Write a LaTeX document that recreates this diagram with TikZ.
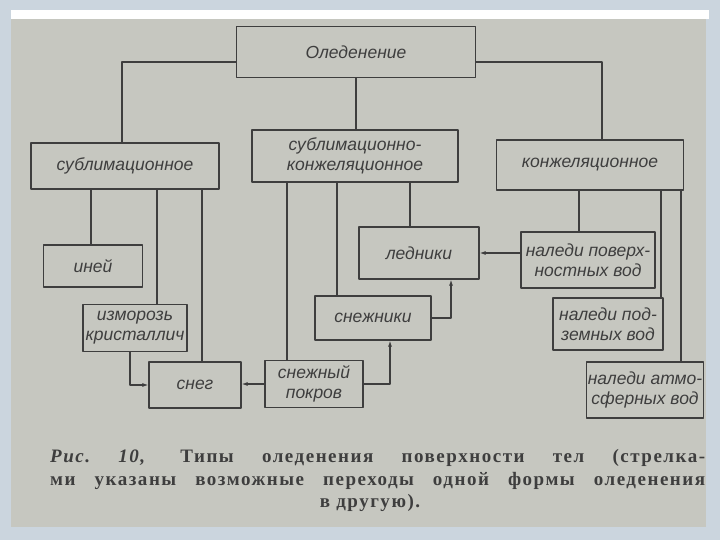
\documentclass[tikz,border=0pt]{standalone}
\usepackage{fontspec}
\setmainfont{Liberation Serif}
\newfontfamily\hand{Liberation Sans}
\newfontfamily\capfont{Liberation Serif}[LetterSpace=8]
\usetikzlibrary{arrows.meta}
\definecolor{giay}{RGB}{198,199,192}
\definecolor{nen}{RGB}{203,213,222}
\definecolor{muc}{RGB}{62,62,62}
\tikzset{
  khoi/.style={draw=muc, line width=1.2pt, fill=giay, text=muc, align=center,
    inner sep=1pt, font=\hand\itshape\fontsize{17.5}{20}\selectfont},
  noi/.style={draw=muc, line width=1.2pt},
  mui/.style={noi, -{Latex[length=6pt,width=4pt]}},
  dong/.style={inner sep=0pt, anchor=west, text=muc,
    font=\capfont\bfseries\fontsize{19}{23}\selectfont}
}
\begin{document}
\begin{tikzpicture}[x=1pt, y=-1pt, line join=round, line cap=round]
	% Nền và trang sách
	\fill[nen] (0,0) rectangle (720,540);
	\fill[white] (11,10) rectangle (709,19);
	\fill[giay] (11,19) rectangle (706,527);
	\useasboundingbox (0,0) rectangle (720,540);
	
	% Vẽ các khối
	\node[khoi, minimum width=239pt, minimum height=51pt] (ol) at (356,52) {Оледенение};
	\node[khoi, minimum width=188pt, minimum height=46pt] (sub) at (125,166) {сублимационное};
	\node[khoi, minimum width=206pt, minimum height=52pt] (subk) at (355,156) {сублимационно-\\конжеляционное};
	\node[khoi, minimum width=187pt, minimum height=50pt] (konzh) at (590,165) {конжеляционное};
	\node[khoi, minimum width=99pt, minimum height=42pt] (inei) at (93,266) {иней};
	\node[khoi, minimum width=104pt, minimum height=47pt] (izm) at (135,328) {изморозь\\кристаллич};
	\node[khoi, minimum width=92pt, minimum height=46pt] (sneg) at (195,385) {снег};
	\node[khoi, minimum width=98pt, minimum height=47pt] (pokr) at (314,384) {снежный\\покров};
	\node[khoi, minimum width=116pt, minimum height=44pt] (snezh) at (373,318) {снежники};
	\node[khoi, minimum width=120pt, minimum height=52pt] (led) at (419,253) {ледники};
	\node[khoi, minimum width=134pt, minimum height=56pt] (npov) at (588,260) {наледи поверх-\\ностных вод};
	\node[khoi, minimum width=110pt, minimum height=52pt] (npod) at (608,324) {наледи под-\\земных вод};
	\node[khoi, minimum width=109pt, minimum height=56pt] (natm) at (645,390) {наледи атмо-\\сферных вод};
	
	% Nối các khối
	\draw[noi] (ol.west) ++(0,10) -| (122,0 |- sub.north);
	\draw[noi] (ol.south) -- (ol.south |- subk.north);
	\draw[noi] (ol.east) ++(0,10) -| (602,0 |- konzh.north);
	\foreach \a/\xx/\b in {sub/91/inei, sub/157/izm, sub/202/sneg,
		subk/287/pokr, subk/337/snezh, subk/410/led,
		konzh/579/npov, konzh/661/npod, konzh/681/natm}
	\draw[noi] (\xx,0 |- \a.south) -- (\xx,0 |- \b.north);
	
	% Mũi tên chuyển tiếp
	\draw[mui] (130,0 |- izm.south) |- (sneg.west);
	\draw[mui] (pokr.west) -- (pokr.west -| sneg.east);
	\draw[mui] (pokr.east) -| (390,0 |- snezh.south);
	\draw[mui] (snezh.east) -| (451,0 |- led.south);
	\draw[mui] (led.east -| npov.west) -- (led.east);
	
	% Chú thích
	\node[dong] (c1) at (50,458) {\makebox[655pt][s]{\textit{Рис.~10,} Типы оледенения поверхности тел (стрелка-}};
	\node[dong] (c2) at (50,481) {\makebox[655pt][s]{ми указаны возможные переходы одной формы оледенения}};
	\node[dong, anchor=center] (c3) at (370,503) {в другую).};
\end{tikzpicture}
\end{document}
